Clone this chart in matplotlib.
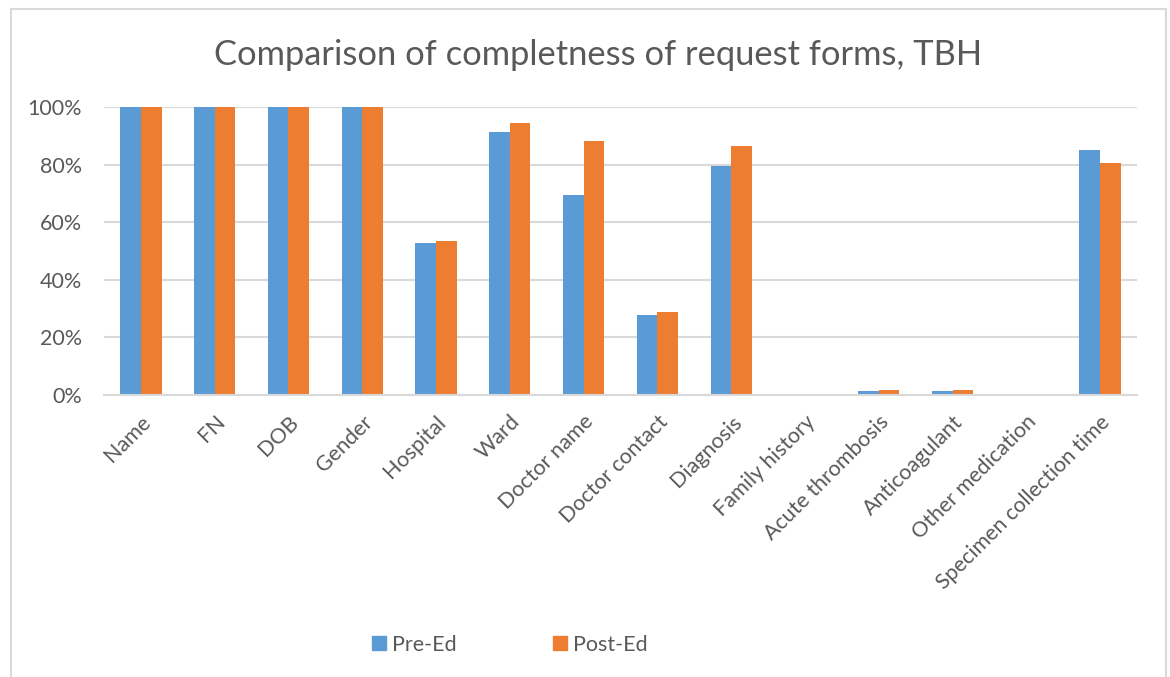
import matplotlib
matplotlib.use('Agg')
from matplotlib import pyplot as plt
from matplotlib.lines import Line2D
import numpy as np

# Values
categories = ['Name', 'FN', 'DOB', 'Gender', 'Hospital', 'Ward', 'Doctor name',
              'Doctor contact', 'Diagnosis', 'Family history', 'Acute thrombosis',
              'Anticoagulant', 'Other medication', 'Specimen collection time']
pre_ed = [1.00, 1.00, 1.00, 1.00, 0.529, 0.912, 0.693, 0.279, 0.795, 0.0, 0.015, 0.015, 0.0, 0.851]
post_ed = [1.00, 1.00, 1.00, 1.00, 0.533, 0.944, 0.883, 0.288, 0.866, 0.0, 0.016, 0.016, 0.0, 0.807]
series_names = ['Pre-Ed', 'Post-Ed']
yticks = [0, 0.2, 0.4, 0.6, 0.8, 1.0]
ytick_labels = ['0%', '20%', '40%', '60%', '80%', '100%']

BLUE = '#5b9bd5'
ORANGE = '#ed7d31'
TEXT = '#595959'
GRID = '#d9d9d9'

plt.rcParams['font.family'] = ['Lato', 'DejaVu Sans']

fig = plt.figure(figsize=(11.7, 6.77), dpi=100)
ax = fig.add_axes([104 / 1170, 1 - 395 / 677, (1137 - 104) / 1170, (395 - 107) / 677])

x = np.arange(len(categories))
w = 0.28
ax.bar(x - w / 2, pre_ed, w, color=BLUE, label=series_names[0], zorder=2)
ax.bar(x + w / 2, post_ed, w, color=ORANGE, label=series_names[1], zorder=2)

ax.set_xlim(-0.5, len(categories) - 0.5)
ax.set_ylim(0, 1.0)
ax.set_yticks(yticks)
ax.set_yticklabels(ytick_labels, color=TEXT, fontsize=15.5)
ax.set_xticks(x)
ax.set_xticklabels(categories, rotation=45, ha='right', rotation_mode='anchor',
                   color=TEXT, fontsize=15.5)
ax.tick_params(length=0)
ax.tick_params(axis='y', pad=16)
ax.tick_params(axis='x', pad=12)
ax.grid(axis='y', color=GRID, linewidth=1.5, zorder=0)
ax.set_axisbelow(True)
for s in ['top', 'right', 'left']:
    ax.spines[s].set_visible(False)
ax.spines['bottom'].set_color(GRID)
ax.spines['bottom'].set_linewidth(1.5)

fig.text(598 / 1170, 1 - 55 / 677, 'Comparison of completness of request forms, TBH',
         ha='center', va='center', color=TEXT, fontsize=24.8)

# legend
handles = [Line2D([], [], marker='s', linestyle='', markersize=10, color=BLUE),
           Line2D([], [], marker='s', linestyle='', markersize=10, color=ORANGE)]
leg = fig.legend(handles, series_names, loc='center', bbox_to_anchor=(0.434, 1 - 645 / 677),
                 ncol=2, frameon=False, fontsize=15.5, columnspacing=4.3, handletextpad=0.1,
                 handlelength=1.0)
for t in leg.get_texts():
    t.set_color(TEXT)

# chart border
bx0, bx1, by0 = 11 / 1170, 1166 / 1170, 1 - 9 / 677
for xs, ys in [([bx0, bx0], [0, by0]), ([bx0, bx1], [by0, by0]), ([bx1, bx1], [by0, 0])]:
    fig.add_artist(Line2D(xs, ys, color='#d9d9d9', linewidth=1.5, transform=fig.transFigure))

fig.savefig('out.png', dpi=100)
